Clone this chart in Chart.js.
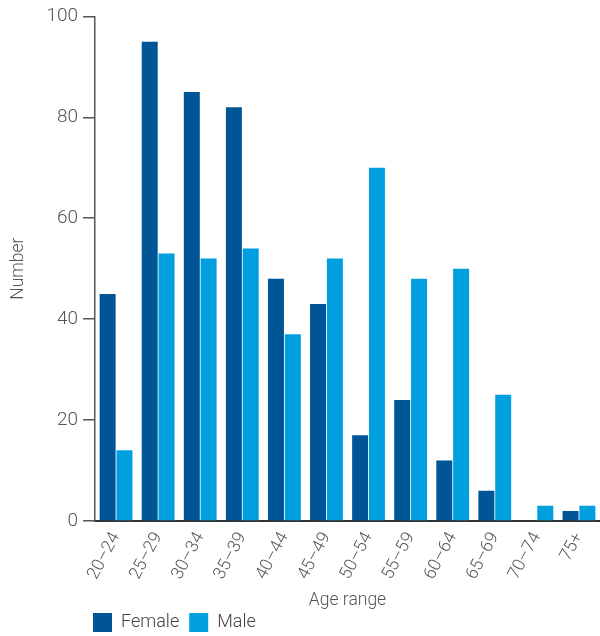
<!DOCTYPE html>
<html>
<head>
<meta charset="utf-8">
<script src="https://cdn.jsdelivr.net/npm/chart.js@4/dist/chart.umd.min.js"></script>
<style>
html,body{margin:0;padding:0;background:#fff;}
#wrap{width:600px;height:636px;position:relative;}
</style>
</head>
<body>
<div id="wrap"><canvas id="c" width="600" height="636"></canvas></div>
<script>
const categories = ["20–24","25–29","30–34","35–39","40–44","45–49","50–54","55–59","60–64","65–69","70–74","75+"];
const female = [45,95,85,82,48,43,17,24,12,6,0,2];
const male = [14,53,52,54,37,52,70,48,50,25,3,3];
const yTicks = [0,20,40,60,80,100];

const FONT = "Roboto, 'Liberation Sans', Arial, sans-serif";
const TXT = '#555555';

const legendShift = {
  id: 'legendShift',
  afterLayout(chart) {
    const lg = chart.legend;
    if (!lg) return;
    const dx = 83 - lg.left;
    lg.left += dx; lg.right += dx;
    const dy = 603 - lg.top;
    lg.top += dy; lg.bottom += dy;
  }
};

new Chart(document.getElementById('c'), {
  type: 'bar',
  data: {
    labels: categories,
    datasets: [
      { label: 'Female', data: female, backgroundColor: '#005596', categoryPercentage: 0.8, barPercentage: 0.95 },
      { label: 'Male', data: male, backgroundColor: '#00a0e0', categoryPercentage: 0.8, barPercentage: 0.95 }
    ]
  },
  options: {
    responsive: false,
    animation: false,
    layout: { padding: { top: 7, right: 0, bottom: 0, left: 0 } },
    plugins: {
      tooltip: { enabled: false },
      legend: {
        position: 'bottom',
        align: 'start',
        labels: {
          boxWidth: 19, boxHeight: 19, padding: 10,
          color: '#444444',
          font: { family: FONT, size: 18, weight: 300 }
        }
      }
    },
    scales: {
      x: {
        grid: { display: false, drawTicks: false },
        border: { display: true, color: '#333333', width: 2 },
        ticks: {
          autoSkip: false, maxRotation: 62, minRotation: 62, padding: 8,
          color: TXT, font: { family: FONT, size: 17.5, weight: 300 }
        },
        title: {
          display: true, text: 'Age range', color: TXT,
          font: { family: FONT, size: 17.5, weight: 300 },
          padding: { top: 0, bottom: -14 }
        },
        afterFit(s) { s.height = 76; s.paddingRight = 0; s.paddingLeft = 0; }
      },
      y: {
        min: 0, max: 100,
        afterBuildTicks(s) { s.ticks = yTicks.map(v => ({ value: v })); },
        grid: { drawOnChartArea: false, drawTicks: true, tickLength: 12, color: '#555555', lineWidth: 1.5 },
        border: { display: true, color: '#555555', width: 1.5 },
        ticks: { padding: 5, color: TXT, font: { family: FONT, size: 19, weight: 300 } },
        title: {
          display: true, text: 'Number', color: TXT,
          font: { family: FONT, size: 17.5, weight: 300 },
          padding: { top: 8, bottom: 0 }
        },
        afterFit(s) { s.width = 95; }
      }
    }
  },
  plugins: [legendShift]
});
</script>
</body>
</html>
